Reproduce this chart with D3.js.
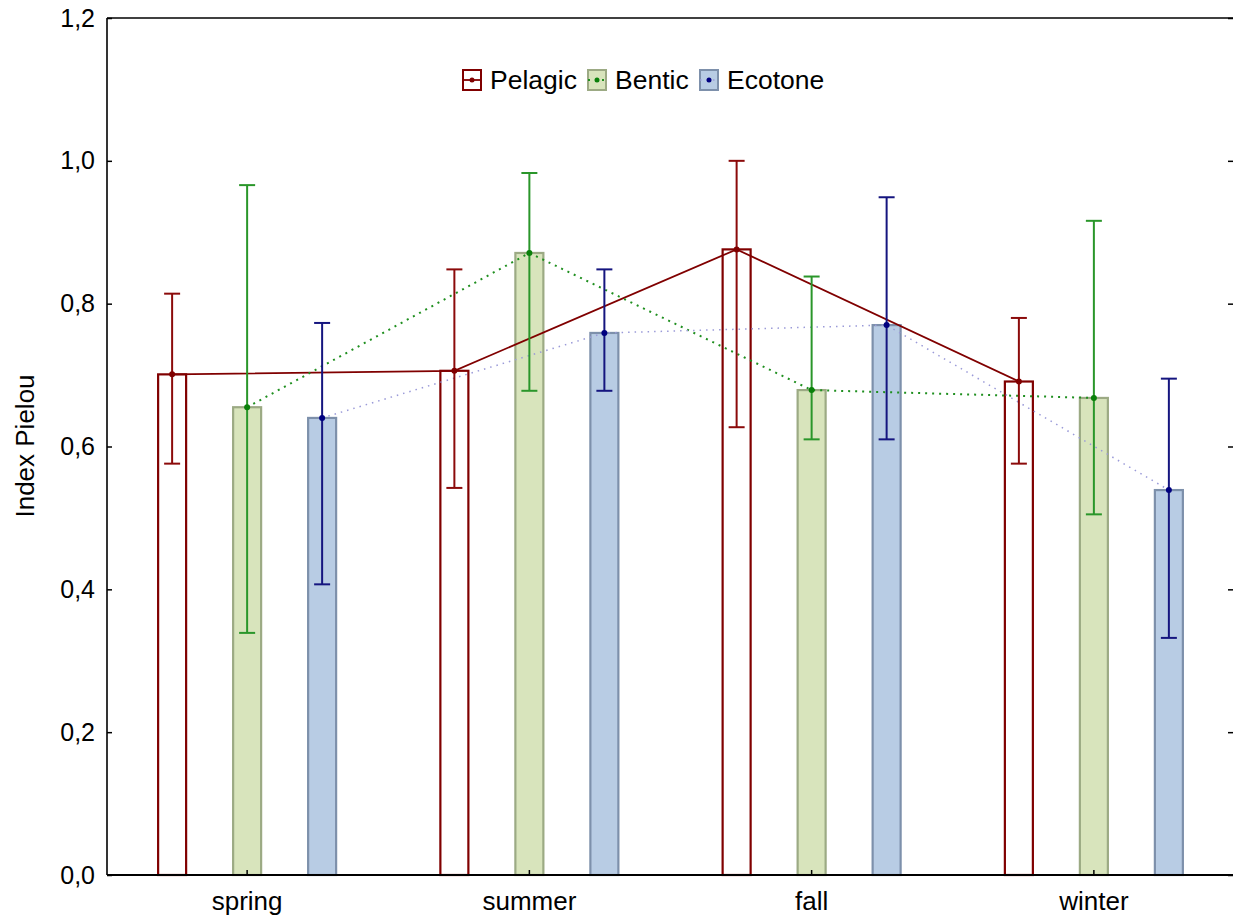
<!DOCTYPE html>
<html><head><meta charset="utf-8">
<script src="https://cdn.jsdelivr.net/npm/d3@7"></script>
<style>body{margin:0;background:#fff}svg{display:block;font-family:"Liberation Sans",Arial,sans-serif}</style>
</head><body><svg id="c" width="1233" height="920"></svg>
<script>
const seasons = ["spring","summer","fall","winter"];
const seriesNames = ["Pelagic","Bentic","Ecotone"];
const pelagicMean = [0.701, 0.706, 0.876, 0.691];
const pelagicLow  = [0.576, 0.542, 0.627, 0.576];
const pelagicHigh = [0.814, 0.848, 1.000, 0.780];
const benticMean  = [0.655, 0.871, 0.679, 0.668];
const benticLow   = [0.339, 0.678, 0.610, 0.505];
const benticHigh  = [0.966, 0.983, 0.838, 0.916];
const ecotoneMean = [0.640, 0.759, 0.770, 0.539];
const ecotoneLow  = [0.407, 0.678, 0.610, 0.332];
const ecotoneHigh = [0.773, 0.848, 0.949, 0.695];
const yTicks = [0,0.2,0.4,0.6,0.8,1.0,1.2];

const series = [
 {name:"Pelagic", mean:pelagicMean, low:pelagicLow, high:pelagicHigh, fill:"#ffffff", stroke:"#800000", err:"#8b0a0a", line:"#800000", dash:null, lw:1.8, dot:"#800000"},
 {name:"Bentic", mean:benticMean, low:benticLow, high:benticHigh, fill:"#d8e4bc", stroke:"#9caa84", err:"#2a962a", line:"#1f8f1f", dash:"2,5", lw:2, dot:"#0a800a"},
 {name:"Ecotone", mean:ecotoneMean, low:ecotoneLow, high:ecotoneHigh, fill:"#b8cce4", stroke:"#7d90ab", err:"#15157f", line:"#9a9ad8", dash:"1.5,5", lw:1.5, dot:"#000080"}
];

const svg = d3.select("#c");
const L=107, R=1235, T=18, B=875;
const x = d3.scaleBand().domain(seasons).range([106,R]);
const y = d3.scaleLinear().domain([0,1.2]).range([B,T]);
const off = [-75,0,75];
const bw = 28;
const cx = (i,k)=> x(seasons[i]) + x.bandwidth()/2 + off[k];
const FONT = "Liberation Sans, Arial, sans-serif";

// bars
series.forEach((s,k)=>{
  svg.append("g").selectAll("rect").data(s.mean).join("rect")
    .attr("x",(d,i)=>cx(i,k)-bw/2).attr("y",d=>y(d))
    .attr("width",bw).attr("height",d=>B-y(d))
    .attr("fill",s.fill).attr("stroke",s.stroke).attr("stroke-width",2.2);
});
// lines
series.forEach((s,k)=>{
  const line = d3.line().x((d,i)=>cx(i,k)).y(d=>y(d));
  svg.append("path").datum(s.mean).attr("d",line).attr("fill","none")
    .attr("stroke",s.line).attr("stroke-width",s.lw)
    .attr("stroke-dasharray",s.dash);
});
// error bars
series.forEach((s,k)=>{
  const g = svg.append("g").attr("stroke",s.err).attr("stroke-width",2);
  s.mean.forEach((m,i)=>{
    const c = cx(i,k);
    g.append("line").attr("x1",c).attr("x2",c).attr("y1",y(s.low[i])).attr("y2",y(s.high[i]));
    g.append("line").attr("x1",c-8).attr("x2",c+8).attr("y1",y(s.low[i])).attr("y2",y(s.low[i]));
    g.append("line").attr("x1",c-8).attr("x2",c+8).attr("y1",y(s.high[i])).attr("y2",y(s.high[i]));
  });
  svg.append("g").selectAll("circle").data(s.mean).join("circle")
    .attr("cx",(d,i)=>cx(i,k)).attr("cy",d=>y(d)).attr("r",3).attr("fill",s.dot);
});

// axes
const yl = d3.axisLeft(y).tickValues(yTicks).tickSize(-5).tickPadding(12)
  .tickFormat(d=>d3.format(".1f")(d).replace(".",","));
const gy = svg.append("g").attr("transform",`translate(${L},0)`).call(yl);
gy.select(".domain").remove();
gy.selectAll(".tick line").attr("stroke","#000").attr("stroke-width",1.5);
gy.selectAll("text").style("font-size","25px").attr("fill","#000").style("font-family",FONT);
const yr = d3.axisRight(y).tickValues(yTicks).tickSize(-5).tickFormat("");
const gyr = svg.append("g").attr("transform",`translate(1233,0)`).call(yr);
gyr.select(".domain").remove();
gyr.selectAll(".tick line").attr("stroke","#000").attr("stroke-width",1.5);

const xa = d3.axisBottom(x).tickSize(-5).tickPadding(17);
const gx = svg.append("g").attr("transform",`translate(0,${B})`).call(xa);
gx.select(".domain").remove();
gx.selectAll(".tick line").attr("stroke","#000").attr("stroke-width",1.5);
gx.selectAll("text").style("font-size","26px").attr("fill","#000").style("font-family",FONT);

// frame
svg.append("line").attr("x1",L).attr("x2",L).attr("y1",T).attr("y2",B).attr("stroke","#000").attr("stroke-width",1.6);
svg.append("line").attr("x1",L).attr("x2",1233).attr("y1",T).attr("y2",T).attr("stroke","#000").attr("stroke-width",1.6);
svg.append("line").attr("x1",L).attr("x2",1233).attr("y1",B).attr("y2",B).attr("stroke","#000").attr("stroke-width",2);

// y label
svg.append("text").attr("transform","translate(34,446) rotate(-90)").attr("text-anchor","middle")
  .style("font-size","26px").style("font-family",FONT).text("Index Pielou");

// legend
const legX = [462, 587, 699];
series.forEach((s,k)=>{
  const g = svg.append("g").attr("transform",`translate(${legX[k]},69)`);
  g.append("rect").attr("x",1).attr("y",1).attr("width",18).attr("height",20)
    .attr("fill",s.fill).attr("stroke",s.stroke).attr("stroke-width",2);
  g.append("line").attr("x1",1).attr("x2",19).attr("y1",11).attr("y2",11)
    .attr("stroke",s.line).attr("stroke-width",s.lw).attr("stroke-dasharray",s.dash);
  g.append("circle").attr("cx",10).attr("cy",11).attr("r",2.5).attr("fill",s.dot);
  g.append("text").attr("x",28).attr("y",20).style("font-size","26.5px").style("font-family",FONT).text(s.name);
});
</script></body></html>
